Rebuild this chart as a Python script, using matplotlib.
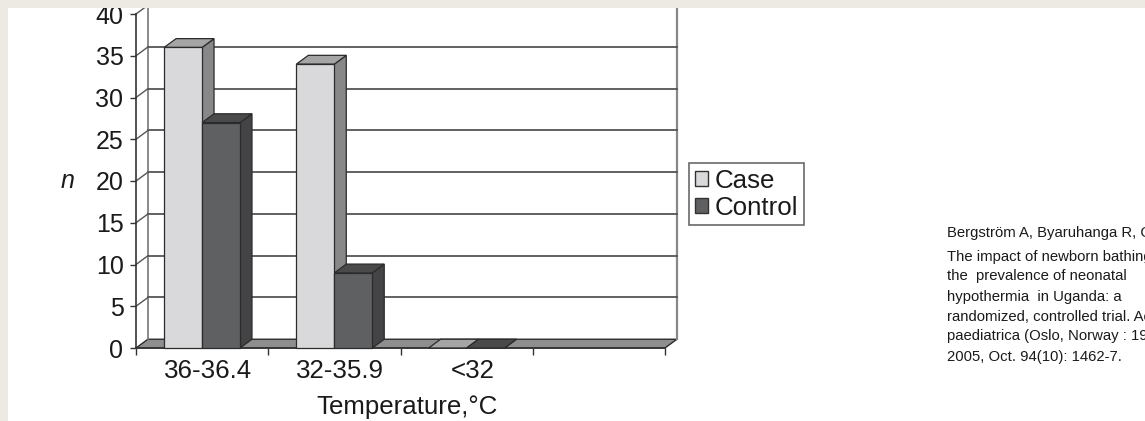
import numpy as np
import matplotlib.pyplot as plt
from matplotlib.patches import Polygon, Patch, Rectangle

plt.rcParams['font.family'] = 'Liberation Sans'

# counts per temperature band
categories = ['36-36.4', '32-35.9', '<32']
case_n = [36, 34, 0]
control_n = [27, 9, 0]
yticks = [0, 5, 10, 15, 20, 25, 30, 35, 40]

citation = [
    'Bergström A, Byaruhanga R, Okong P.',
    'The impact of newborn bathing on',
    'the  prevalence of neonatal',
    'hypothermia  in Uganda: a',
    'randomized, controlled trial. Acta',
    'paediatrica (Oslo, Norway : 1992).',
    '2005, Oct. 94(10): 1462-7.',
]

n_slots = len(categories) + 1   # one empty slot at the right, like the excel chart
bar_w = 0.287
dx, dy = 0.09, 1.05             # fake 3d depth in data units
ymax = 40

case_face = ('#d9d9db', '#a5a5a5', '#888888')     # front, top, side
ctrl_face = ('#5f6062', '#4a4a4a', '#444446')
edge = '#2b2b2b'
grid_c = '#555555'
txt = '#1a1a1a'
big = 18.6

fig = plt.figure(figsize=(11.45, 4.21), dpi=100)
ax = fig.add_axes([136 / 1145, 73 / 421, 529 / 1145, 334 / 421])
ax.set_xlim(0, n_slots)
ax.set_ylim(0, ymax)
ax.patch.set_visible(False)
for side in ['top', 'right']:
    ax.spines[side].set_visible(False)
for side in ['left', 'bottom']:
    ax.spines[side].set_color('#333333')
    ax.spines[side].set_linewidth(1.2)


def poly(pts, fc, z, lw=0.9, ec=edge):
    ax.add_patch(Polygon(pts, closed=True, facecolor=fc, edgecolor=ec,
                         linewidth=lw, zorder=z, clip_on=False))


# floor
poly([(0, 0), (dx, dy), (n_slots + dx, dy), (n_slots, 0)], '#8e8e8e', 1, lw=1.0)

# back wall, left wall edges and gridlines
ax.plot([dx, dx], [dy, ymax + dy], color='#777777', lw=1.2, zorder=1, clip_on=False)
ax.plot([n_slots + dx, n_slots + dx], [dy, ymax + dy], color='#888888', lw=1.6,
        zorder=1, clip_on=False)
for v in yticks[1:]:
    ax.plot([dx, n_slots + dx], [v + dy, v + dy], color=grid_c, lw=1.3, zorder=1,
            clip_on=False)
    ax.plot([0, dx], [v, v + dy], color=grid_c, lw=1.0, zorder=1, clip_on=False)


def bar3d(x0, h, faces, z):
    front, top, side = faces
    poly([(x0 + bar_w, 0), (x0 + bar_w + dx, dy), (x0 + bar_w + dx, h + dy),
          (x0 + bar_w, h)], side, z)
    poly([(x0, h), (x0 + dx, h + dy), (x0 + bar_w + dx, h + dy), (x0 + bar_w, h)], top, z)
    if h > 0:
        poly([(x0, 0), (x0, h), (x0 + bar_w, h), (x0 + bar_w, 0)], front, z)


z = 3
for i in range(len(categories)):
    left = i + 0.5 - bar_w
    bar3d(left, case_n[i], case_face, z)
    z += 1
    bar3d(left + bar_w, control_n[i], ctrl_face, z)
    z += 1

# axes ticks and labels
ax.set_yticks(yticks)
ax.set_yticklabels([str(v) for v in yticks])
ax.tick_params(axis='y', length=4.5, width=1.0, color='#333333', pad=4.5,
               labelsize=18, labelcolor=txt)
ax.set_xticks(np.arange(n_slots + 1))
ax.set_xticklabels([])
ax.tick_params(axis='x', which='major', length=5, width=1.0, color='#333333')
ax.set_xticks(np.arange(len(categories)) + 0.5 + dx / 2, minor=True)
ax.set_xticklabels(categories, minor=True)
ax.tick_params(axis='x', which='minor', length=0, pad=8, labelsize=big, labelcolor=txt)

ax.set_xlabel('Temperature,°C', fontsize=big, color=txt)
ax.xaxis.set_label_coords(0.512, -0.142)
ax.set_ylabel('n', fontsize=18, fontstyle='italic', rotation=0, color=txt,
              va='center', ha='center')
ax.yaxis.set_label_coords(-0.13, 0.5)

handles = [Patch(facecolor=case_face[0], edgecolor='#333333', label='Case'),
           Patch(facecolor=ctrl_face[0], edgecolor='#333333', label='Control')]
leg = fig.legend(handles=handles, loc='upper left',
                 bbox_to_anchor=(689 / 1145, 1 - 163 / 421), fontsize=big,
                 frameon=True, fancybox=False, borderpad=0.22, labelspacing=0.12,
                 handlelength=0.5, handleheight=0.5, handletextpad=0.28,
                 borderaxespad=0)
leg.get_frame().set_edgecolor('#444444')
leg.get_frame().set_linewidth(1.2)
for t in leg.get_texts():
    t.set_color(txt)

# reference text on the right
line_y = [233, 257, 276, 297, 317, 336, 357]
for s, yy in zip(citation, line_y):
    fig.text(947 / 1145, 1 - yy / 421, s, fontsize=10.7, color=txt, va='center',
             ha='left')

# page frame
fig.patches.append(Rectangle((0, 1 - 8 / 421), 1, 8 / 421, transform=fig.transFigure,
                             facecolor='#edeae4', edgecolor='none', zorder=10))
fig.patches.append(Rectangle((0, 0), 8 / 1145, 1, transform=fig.transFigure,
                             facecolor='#edeae4', edgecolor='none', zorder=10))

fig.savefig('out.png', dpi=100)
